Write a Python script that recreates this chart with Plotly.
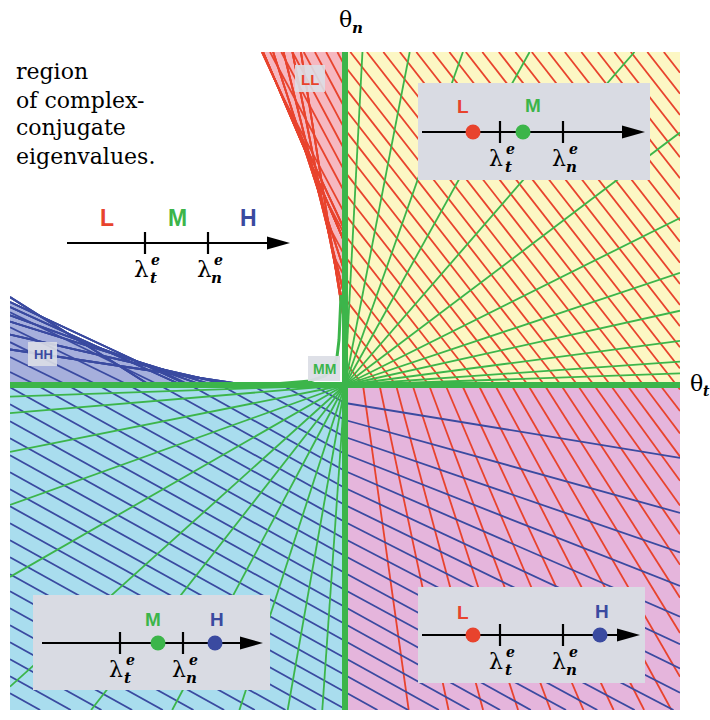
import numpy as np
import plotly.graph_objects as go

# ---------------- values ----------------
# frame: origin of (theta_t, theta_n) is the crossing of the green axes; 1 unit = 1 px
theta_t_range = [-335, 335]
theta_n_range = [-325, 333]

# red family: parallel in the upper-right quadrant, fanning below the theta_t axis
red_angle_ur = 52.0
red_step = 16.5
red_phase = 1.5
red_count = 38
red_angles_lr = [82, 78, 75, 72, 69.5, 67, 65, 63, 61.5, 60, 58.5, 57.5, 56.5, 55.5,
                 54.5, 54, 53.5, 53, 52.5, 52]
red_angle_llregion = 62.0

# blue family: parallel in the lower-left quadrant, fanning right of the theta_n axis
blue_angle_ll = 29.0
blue_step = 17.0
blue_phase = 1.0
blue_count = 32
blue_angles_lr = [9.3, 15.5, 19, 21.5, 23.5, 25, 26, 27, 27.5, 28, 28.5, 28.5, 29, 29,
                  29, 29, 29, 29, 29]
blue_angle_hhregion = 26.0

# green radial lines
green_angles_ur = [2, 4, 7.5, 12.5, 18.5, 26.5, 37, 49, 61, 70.5, 79, 87]
green_angles_ll = [2, 4.8, 11.3, 19.7, 29.8, 42, 52, 62, 72, 80, 86]

# envelope regions
ll_boundary_t = [-83, -70, -55, -40, -27, -17, -10, -6]
ll_boundary_n = [333, 305, 270, 235, 195, 155, 120, 95]
hh_boundary_t = [-335, -305, -278, -245, -212, -180, -145, -105]
hh_boundary_n = [83, 69, 52, 37, 25, 15, 7, 1]
fillet_t = [-4, -5, -6, -8, -12, -20, -35, -65, -110]
fillet_n = [90, 70, 45, 28, 17, 9, 4, 1.5, 0]

# ---------------- colours ----------------
C_RED = "#e8432d"
C_BLUE = "#3a4aa0"
C_GREEN = "#3cb54a"
C_YELLOW = "#fcf7c4"
C_LBLUE = "#a9ddee"
C_PINK = "#e5b5dc"
C_LLFILL = "#f6b8c0"
C_HHFILL = "#a6afdc"
C_BOX = "#d9dbe3"
SERIF = "DejaVu Serif"
SANS = "Liberation Sans"

fig = go.Figure()


def D(px, py):
    return px - 345, 385 - py


def clip(p, u, poly):
    p = np.asarray(p, float)
    u = np.asarray(u, float)
    ts = []
    n = len(poly)
    for i in range(n):
        a = np.asarray(poly[i], float)
        b = np.asarray(poly[(i + 1) % n], float)
        e = b - a
        w = a - p
        det = -u[0] * e[1] + e[0] * u[1]
        if abs(det) < 1e-12:
            continue
        t = (-w[0] * e[1] + e[0] * w[1]) / det
        s = (u[0] * w[1] - u[1] * w[0]) / det
        if 0 <= s < 1:
            ts.append(t)
    ts.sort()
    segs = []
    for i in range(0, len(ts) - 1, 2):
        segs.append((p + ts[i] * u, p + ts[i + 1] * u))
    return segs


def add_segs(segs, color, width):
    xs, ys = [], []
    for a, b in segs:
        xs += [a[0], b[0], None]
        ys += [a[1], b[1], None]
    fig.add_trace(go.Scatter(x=xs, y=ys, mode="lines", line=dict(color=color, width=width),
                             hoverinfo="skip", showlegend=False))


def poly_trace(xs, ys, color, line_color=None, lw=0):
    fig.add_trace(go.Scatter(x=list(xs) + [xs[0]], y=list(ys) + [ys[0]], mode="lines",
                             fill="toself", fillcolor=color,
                             line=dict(color=line_color or color, width=lw),
                             hoverinfo="skip", showlegend=False))


def rad(a):
    return np.deg2rad(a)


TL, TR = theta_t_range
NB, NT = theta_n_range
UR = [(0, 0), (TR, 0), (TR, NT), (0, NT)]
LR = [(0, 0), (0, NB), (TR, NB), (TR, 0)]
LLQ = [(0, 0), (TL, 0), (TL, NB), (0, NB)]
LLPOLY = list(zip(ll_boundary_t, ll_boundary_n)) + [(0, ll_boundary_n[-1]), (0, NT)]
HHPOLY = list(zip(hh_boundary_t, hh_boundary_n)) + [(hh_boundary_t[-1], 0), (TL, 0)]

# background quadrants
for (x0, x1, y0, y1, col) in [(0, TR, 0, NT, C_YELLOW), (0, TR, NB, 0, C_PINK),
                              (TL, 0, NB, 0, C_LBLUE)]:
    fig.add_shape(type="rect", x0=x0, x1=x1, y0=y0, y1=y1, fillcolor=col,
                  line=dict(width=0), layer="below")

# envelope region fills
poly_trace([p[0] for p in LLPOLY], [p[1] for p in LLPOLY], C_LLFILL)
poly_trace([p[0] for p in HHPOLY], [p[1] for p in HHPOLY], C_HHFILL)

# red family
red_d = [red_step * j + red_phase for j in range(red_count)]
segs = []
u_ur = (np.cos(rad(red_angle_ur)), -np.sin(rad(red_angle_ur)))
for d in red_d:
    segs += clip((d, 0), u_ur, UR)
for d, a in zip(red_d[1:], red_angles_lr):
    segs += clip((d, 0), (np.cos(rad(a)), -np.sin(rad(a))), LR)
u_llr = (-np.cos(rad(red_angle_llregion)), np.sin(rad(red_angle_llregion)))
for d in red_d:
    y0 = d * np.tan(rad(red_angle_ur))
    segs += clip((0, y0), u_llr, LLPOLY)
# envelope tangents (LL)
s_idx = np.linspace(0, len(ll_boundary_t) - 1, 22)
bt = np.interp(s_idx, range(len(ll_boundary_t)), ll_boundary_t)
bn = np.interp(s_idx, range(len(ll_boundary_n)), ll_boundary_n)
for i in range(len(bt) - 1):
    m = np.array([(bt[i] + bt[i + 1]) / 2, (bn[i] + bn[i + 1]) / 2])
    u = np.array([bt[i + 1] - bt[i], bn[i + 1] - bn[i]])
    u = u / np.hypot(*u)
    t1 = (NT - m[1]) / u[1]
    t2 = (0 - m[0]) / u[0]
    segs.append((m + t1 * u, m + t2 * u))
add_segs(segs, C_RED, 1.8)

# blue family
blue_e = [blue_step * k + blue_phase for k in range(blue_count)]
segs = []
u_ll = (np.cos(rad(blue_angle_ll)), -np.sin(rad(blue_angle_ll)))
for e in blue_e:
    segs += clip((0, -e), u_ll, LLQ)
for e, a in zip(blue_e[1:], blue_angles_lr):
    segs += clip((0, -e), (np.cos(rad(a)), -np.sin(rad(a))), LR)
u_hh = (-np.cos(rad(blue_angle_hhregion)), np.sin(rad(blue_angle_hhregion)))
for e in blue_e:
    x0 = -e / np.tan(rad(blue_angle_ll))
    if TL < x0 < hh_boundary_t[-1]:
        segs += clip((x0, 0), u_hh, HHPOLY)
s_idx = np.linspace(0, len(hh_boundary_t) - 1, 22)
bt = np.interp(s_idx, range(len(hh_boundary_t)), hh_boundary_t)
bn = np.interp(s_idx, range(len(hh_boundary_n)), hh_boundary_n)
for i in range(len(bt) - 1):
    m = np.array([(bt[i] + bt[i + 1]) / 2, (bn[i] + bn[i + 1]) / 2])
    u = np.array([bt[i + 1] - bt[i], bn[i + 1] - bn[i]])
    u = u / np.hypot(*u)
    t1 = (TL - m[0]) / u[0]
    t2 = (0 - m[1]) / u[1]
    segs.append((m + t1 * u, m + t2 * u))
add_segs(segs, C_BLUE, 1.8)

# green radial lines
segs = []
for a in green_angles_ur:
    c, s = np.cos(rad(a)), np.sin(rad(a))
    t = min(TR / c, NT / s)
    segs.append((np.array([0, 0]), np.array([c * t, s * t])))
for a in green_angles_ll:
    c, s = np.cos(rad(a)), np.sin(rad(a))
    t = min(-TL / c, -NB / s)
    segs.append((np.array([0, 0]), np.array([-c * t, -s * t])))
add_segs(segs, C_GREEN, 1.8)

# fillet at the origin (thin curve) and thick axes
fig.add_trace(go.Scatter(x=fillet_t, y=fillet_n, mode="lines", line=dict(color=C_GREEN, width=3),
                         hoverinfo="skip", showlegend=False))
fig.add_trace(go.Scatter(x=[0, 0, None, TL, TR], y=[NB, NT + 6, None, 0, 0], mode="lines",
                         line=dict(color=C_GREEN, width=6), hoverinfo="skip",
                         showlegend=False))


def rect_px(x0, y0, x1, y1, color):
    a = D(x0, y0)
    b = D(x1, y1)
    poly_trace([a[0], b[0], b[0], a[0]], [a[1], a[1], b[1], b[1]], color)


annots = []


def text_px(x, y, txt, size, color="black", family=SERIF, anchor="center"):
    annots.append(dict(x=(x - 10) / 670.0, y=(710 - y) / 658.0, xref="paper", yref="paper",
                       text=txt, showarrow=False, xanchor=anchor, yanchor="middle",
                       font=dict(size=size, color=color, family=family)))


# region label boxes
rect_px(295, 65, 325, 92, "rgba(220,222,230,0.9)")
text_px(310, 79, "<b>LL</b>", 15, C_RED, SANS)
rect_px(28, 342, 57, 366, "rgba(220,222,230,0.9)")
text_px(43, 354, "<b>HH</b>", 13, C_BLUE, SANS)
rect_px(308, 356, 340, 381, "rgba(220,222,230,0.95)")
text_px(324, 369, "<b>MM</b>", 14, C_GREEN, SANS)


def lam(xt, yl, sub, big):
    s = 23 if big else 22
    text_px(xt - 4, yl + 26, "λ", s)
    text_px(xt + 10, yl + 17, "<b><i>e</i></b>", 14)
    text_px(xt + 8, yl + 35, "<b><i>%s</i></b>" % sub, 15)


def numline(xl, xr, y, ticks, dots, big=False):
    a = D(xl, y)
    b = D(xr, y)
    fig.add_trace(go.Scatter(x=[a[0], b[0] - 18], y=[a[1], a[1]], mode="lines",
                             line=dict(color="black", width=2.2), hoverinfo="skip",
                             showlegend=False))
    poly_trace([b[0] - 23, b[0], b[0] - 23], [a[1] + 6.5, a[1], a[1] - 6.5], "black")
    xs, ys = [], []
    for t in ticks:
        tx = D(t, y)[0]
        xs += [tx, tx, None]
        ys += [a[1] + 11, a[1] - 11, None]
    fig.add_trace(go.Scatter(x=xs, y=ys, mode="lines", line=dict(color="black", width=2.2),
                             hoverinfo="skip", showlegend=False))
    for px, col in dots:
        fig.add_trace(go.Scatter(x=[D(px, y)[0]], y=[a[1]], mode="markers",
                                 marker=dict(color=col, size=15, line=dict(width=0)),
                                 hoverinfo="skip", showlegend=False))
    lam(ticks[0], y, "t", big)
    lam(ticks[1], y, "n", big)


# top-left key
numline(67, 290, 243, [145, 208], [], big=True)
text_px(107, 218, "<b>L</b>", 23, C_RED, SANS)
text_px(177, 218, "<b>M</b>", 23, C_GREEN, SANS)
text_px(248, 218, "<b>H</b>", 23, C_BLUE, SANS)

# upper-right box
rect_px(418, 83, 650, 180, C_BOX)
numline(422, 645, 132, [500, 563], [(473, C_RED), (523, C_GREEN)])
text_px(463, 107, "<b>L</b>", 19, C_RED, SANS)
text_px(533, 105, "<b>M</b>", 19, C_GREEN, SANS)

# lower-left box
rect_px(33, 595, 270, 690, C_BOX)
numline(42, 263, 643, [120, 183], [(158, C_GREEN), (215, C_BLUE)])
text_px(153, 619, "<b>M</b>", 19, C_GREEN, SANS)
text_px(217, 619, "<b>H</b>", 19, C_BLUE, SANS)

# lower-right box
rect_px(418, 587, 645, 683, C_BOX)
numline(422, 640, 635, [500, 563], [(473, C_RED), (600, C_BLUE)])
text_px(463, 612, "<b>L</b>", 19, C_RED, SANS)
text_px(602, 611, "<b>H</b>", 19, C_BLUE, SANS)

# axis titles
text_px(345, 20, "θ", 22)
text_px(357, 28, "<b><i>n</i></b>", 15)
text_px(696, 383, "θ", 22)
text_px(706, 391, "<b><i>t</i></b>", 14)

# caption
for yy, line in zip([72, 100, 128, 157], ["region", "of complex-", "conjugate", "eigenvalues."]):
    text_px(14, yy, line, 22, anchor="left")

fig.update_layout(
    width=710, height=720,
    margin=dict(l=10, r=30, t=52, b=10),
    paper_bgcolor="white", plot_bgcolor="white",
    xaxis=dict(range=theta_t_range, visible=False, fixedrange=True),
    yaxis=dict(range=theta_n_range, visible=False, fixedrange=True),
    annotations=annots, showlegend=False, hovermode=False,
)
fig.write_html("out.html", config={"displayModeBar": False},
               post_script="document.body.style.margin='0px';")
